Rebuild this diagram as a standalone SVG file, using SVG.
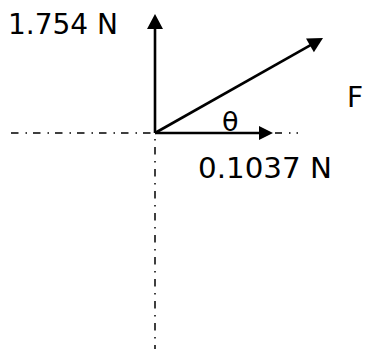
<svg xmlns="http://www.w3.org/2000/svg" width="365" height="349" viewBox="0 0 365 349">
<style>
.axis{stroke:#000;stroke-width:1.5;fill:none}
.vec{stroke:#000;stroke-width:2.6;fill:none}
.head{fill:#000;stroke:none}
.lbl{font-family:"DejaVu Sans",sans-serif;font-size:28px;fill:#000}
</style>
<rect width="365" height="349" fill="#fff"/>
<g id="connectors">
<line class="axis" x1="11" y1="133" x2="155" y2="133" stroke-dasharray="7.5 7 1.5 6"/>
<line class="axis" x1="275" y1="133" x2="299" y2="133" stroke-dasharray="7 7 1.5 6 1.5 100"/>
<line class="axis" x1="155" y1="139" x2="155" y2="349" stroke-dasharray="1.5 6.5 7.5 6.5"/>
<line class="vec" x1="155" y1="133" x2="155" y2="28"/>
<polygon class="head" points="155,14 163,29 147,29"/>
<line class="vec" x1="155" y1="133" x2="260" y2="133"/>
<polygon class="head" points="273,133 259,140 259,126"/>
<line class="vec" x1="155" y1="133" x2="311" y2="44.8"/>
<polygon class="head" points="323,38 313.9,52.3 306,38.4"/>
</g>
<g id="label-y"><text class="lbl" x="8" y="34" textLength="110" lengthAdjust="spacingAndGlyphs">1.754 N</text></g>
<g id="label-x"><text class="lbl" x="198" y="178" textLength="134" lengthAdjust="spacingAndGlyphs">0.1037 N</text></g>
<g id="label-F"><text class="lbl" x="347" y="107">F</text></g>
<g id="label-theta"><text class="lbl" x="222" y="131" style="font-size:27px">θ</text></g>
</svg>
